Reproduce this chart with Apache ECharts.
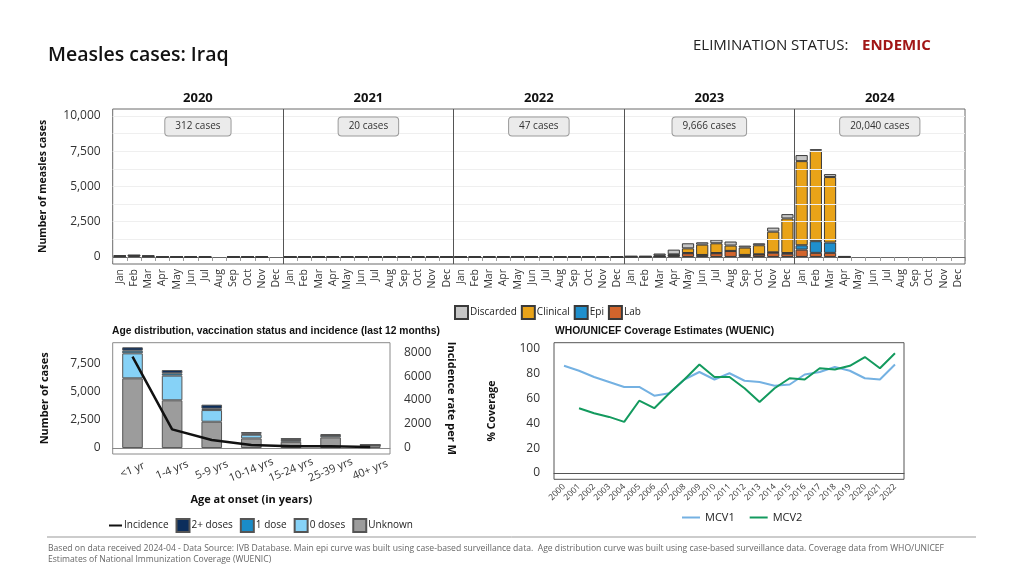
<!DOCTYPE html>
<html><head><meta charset="utf-8">
<script src="https://cdn.jsdelivr.net/npm/echarts@6/dist/echarts.min.js"></script>
<style>html,body{margin:0;padding:0;background:#fff}#c{width:1024px;height:576px}</style>
</head><body><div id="c"></div>
<script>
// ---------- DATA ----------
const years = ['2020', '2021', '2022', '2023', '2024'];
const months = ['Jan','Feb','Mar','Apr','May','Jun','Jul','Aug','Sep','Oct','Nov','Dec'];
const yearTotals = ['312 cases', '20 cases', '47 cases', '9,666 cases', '20,040 cases'];

// monthly values, one row per year (2020..2024)
const labCases = [
  40,110,35,10,4,3,2,null,1,2,1,null,
  1,0,1,0,1,0,1,1,0,1,1,1,
  1,1,2,3,4,2,1,2,1,2,1,1,
  20,20,40,120,260,120,260,420,130,170,300,230,
  520,290,290,15,null,null,null,null,null,null,null,null
];
const epiCases = [
  0,0,0,0,0,0,0,null,0,0,0,null,
  0,0,0,0,0,0,0,0,0,0,0,0,
  0,0,0,0,0,0,0,0,0,0,0,0,
  0,0,5,5,20,20,20,10,15,20,30,50,
  310,830,735,0,null,null,null,null,null,null,null,null
];
const clinicalCases = [
  40,0,40,10,4,3,3,null,2,1,1,null,
  1,1,1,1,1,1,1,1,1,1,1,1,
  2,1,2,3,4,3,2,2,2,2,2,1,
  25,25,60,60,330,735,690,380,520,640,1466,2450,
  5970,6420,4645,15,null,null,null,null,null,null,null,null
];
const discardedCases = [
  0,0,0,0,0,0,0,null,0,0,0,null,
  0,0,0,0,0,0,0,0,0,0,0,0,
  0,0,0,40,50,0,0,0,0,0,40,0,
  5,5,140,335,360,165,260,285,140,140,285,310,
  430,110,210,10,null,null,null,null,null,null,null,null
];
const casesTicks = [0, 2500, 5000, 7500, 10000];
const casesMinorLines = [1250, 2500, 3750, 5000, 6250, 7500, 8750, 10000];

const ageGroups = ['<1 yr','1-4 yrs','5-9 yrs','10-14 yrs','15-24 yrs','25-39 yrs','40+ yrs'];
const ageUnknown = [6220, 4260, 2350, 860, 560, 950, 240];
const ageDose0   = [2230, 2200, 1040, 330, 150, 150, 20];
const ageDose1   = [240, 210, 120, 90, 50, 50, 10];
const ageDose2   = [300, 290, 360, 150, 130, 100, 10];
const incidence  = [7660, 1520, 620, 200, 100, 100, 30];
const ageLeftTicks = [0, 2500, 5000, 7500];
const ageRightTicks = [0, 2000, 4000, 6000, 8000];

const covYears = [2000,2001,2002,2003,2004,2005,2006,2007,2008,2009,2010,2011,2012,2013,2014,2015,2016,2017,2018,2019,2020,2021,2022];
const mcv1 = [86,82,77,73,69,69,62,64,75,81,75,80,74,73,70,71,79,81,85,82,76,75,87];
const mcv2 = [null,52,48,45,41,58,52,64,75,87,77,77,68,57,68,76,75,84,83,86,93,84,96];
const covTicks = [0, 20, 40, 60, 80, 100];

// ---------- CHART ----------
const FONT = '"Open Sans", sans-serif';
const monthCats = [];
years.forEach(y => months.forEach(m => monthCats.push(y + '-' + m)));
const yearBounds = years.slice(1).map((y, i) => (i + 1) * months.length);
const fmt = v => v.toLocaleString('en-US');

const barBorder = { borderColor: '#3a3a3a', borderWidth: 1 };
const colors = { lab: '#d2642c', epi: '#1f8fcc', clinical: '#e9a318', discarded: '#c6c6c6' };
const lineLegend = name => ({ name: name, itemStyle: { opacity: 0 } });
const boxLegend = name => ({ name: name, icon: 'rect' });

const chart = echarts.init(document.getElementById('c'));

const option = {
  animation: false,
  textStyle: { fontFamily: FONT },
  grid: [
    { left: 112.7, right: 59, top: 109, bottom: 312, show: true, borderColor: '#6a6a6a', borderWidth: 1, backgroundColor: 'transparent' },
    { left: 112.7, right: 634, top: 342.7, bottom: 122, show: true, borderColor: '#8a8a8a', borderWidth: 1, backgroundColor: 'transparent' },
    { left: 554, right: 120, top: 342.7, bottom: 96.7, show: true, borderColor: '#555', borderWidth: 1, backgroundColor: 'transparent' }
  ],
  xAxis: [
    { type: 'category', gridIndex: 0, data: monthCats, position: 'bottom',
      axisLine: { show: true, lineStyle: { color: '#666' } },
      axisTick: { show: true, length: 4, lineStyle: { color: '#999' } },
      axisLabel: { interval: 0, rotate: 90, fontSize: 10.5, color: '#333', margin: 5, formatter: v => v.split('-')[1] } },
    { type: 'category', gridIndex: 0, data: years, position: 'top',
      axisLine: { show: false }, axisTick: { show: false },
      axisLabel: { fontSize: 13, fontWeight: 'bold', color: '#111', margin: 4 } },
    { type: 'value', gridIndex: 0, min: 0, max: monthCats.length, show: false },
    { type: 'category', gridIndex: 1, data: ageGroups,
      axisLine: { show: true, lineStyle: { color: '#888' } }, axisTick: { show: false },
      axisLabel: { interval: 0, rotate: 22, fontSize: 11, color: '#333', margin: 16, align: 'center', verticalAlign: 'middle' },
      name: 'Age at onset (in years)', nameLocation: 'middle', nameGap: 40,
      nameTextStyle: { fontWeight: 'bold', fontSize: 11, color: '#111' } },
    { type: 'value', gridIndex: 2, min: 1999.335, max: 2022.6,
      axisLine: { show: true, lineStyle: { color: '#555' } },
      axisTick: { show: false },
      splitLine: { show: false },
      axisLabel: { customValues: covYears, rotate: 45, fontSize: 8.5, color: '#333', margin: 6, formatter: v => String(v) } }
  ],
  yAxis: [
    { type: 'value', gridIndex: 0, min: -500, max: 10500,
      axisLine: { show: false }, axisTick: { show: false }, splitLine: { show: false },
      axisLabel: { customValues: casesTicks, fontSize: 12, color: '#333', margin: 12, formatter: v => fmt(v) },
      name: 'Number of measles cases', nameLocation: 'middle', nameGap: 64,
      nameTextStyle: { fontWeight: 'bold', fontSize: 10.5, color: '#111' } },
    { type: 'value', gridIndex: 1, min: -530, max: 9400,
      axisLine: { show: false }, axisTick: { show: false }, splitLine: { show: false },
      axisLabel: { customValues: ageLeftTicks, fontSize: 12, color: '#333', margin: 12, formatter: v => fmt(v) },
      name: 'Number of cases', nameLocation: 'middle', nameGap: 62,
      nameTextStyle: { fontWeight: 'bold', fontSize: 11, color: '#111' } },
    { type: 'value', gridIndex: 1, position: 'right', min: -560, max: 8840,
      axisLine: { show: false }, axisTick: { show: false }, splitLine: { show: false },
      axisLabel: { customValues: ageRightTicks, fontSize: 12, color: '#333', margin: 14, formatter: v => String(v) },
      name: 'Incidence rate per M', nameLocation: 'middle', nameGap: 56, nameRotate: -90,
      nameTextStyle: { fontWeight: 'bold', fontSize: 11, color: '#111' } },
    { type: 'value', gridIndex: 2, min: -5, max: 104.5,
      axisLine: { show: false }, axisTick: { show: false }, splitLine: { show: false },
      axisLabel: { customValues: covTicks, fontSize: 12, color: '#333', margin: 14 },
      name: '% Coverage', nameLocation: 'middle', nameGap: 56,
      nameTextStyle: { fontWeight: 'bold', fontSize: 10.5, color: '#111' } }
  ],
  legend: [
    { data: ['Discarded', 'Clinical', 'Epi', 'Lab'].map(boxLegend), left: 449, top: 300, itemWidth: 13, itemHeight: 13, itemGap: 4,
      textStyle: { fontSize: 10, color: '#222', padding: [0, 0, 0, -3] } },
    { data: [lineLegend('Incidence')].concat(['2+ doses', '1 dose', '0 doses', 'Unknown'].map(boxLegend)), left: 103, top: 513, itemWidth: 13, itemHeight: 13, itemGap: 7,
      textStyle: { fontSize: 10, color: '#222', padding: [0, 0, 0, -3] } },
    { data: [lineLegend('MCV1'), lineLegend('MCV2')], left: 676, top: 507, itemWidth: 18, itemHeight: 10, itemGap: 14,
      textStyle: { fontSize: 11, color: '#222' } }
  ],
  series: [
    // background guides for the epi curve
    { type: 'line', xAxisIndex: 2, yAxisIndex: 0, data: [], z: 1, silent: true,
      markLine: { silent: true, symbol: 'none', label: { show: false }, animation: false,
        data: casesMinorLines.map(v => ({ yAxis: v, lineStyle: { color: '#efefef', type: 'solid', width: 1 } }))
          .concat(yearBounds.map(v => ({ xAxis: v, lineStyle: { color: '#555', type: 'solid', width: 1 } }))) } },
    { name: 'Lab', type: 'bar', xAxisIndex: 0, yAxisIndex: 0, stack: 'epi', data: labCases, barCategoryGap: '14%',
      itemStyle: Object.assign({ color: colors.lab }, barBorder) },
    { name: 'Epi', type: 'bar', xAxisIndex: 0, yAxisIndex: 0, stack: 'epi', data: epiCases,
      itemStyle: Object.assign({ color: colors.epi }, barBorder) },
    { name: 'Clinical', type: 'bar', xAxisIndex: 0, yAxisIndex: 0, stack: 'epi', data: clinicalCases,
      itemStyle: Object.assign({ color: colors.clinical }, barBorder) },
    { name: 'Discarded', type: 'bar', xAxisIndex: 0, yAxisIndex: 0, stack: 'epi', data: discardedCases,
      itemStyle: Object.assign({ color: colors.discarded }, barBorder) },

    { name: 'Unknown', type: 'bar', xAxisIndex: 3, yAxisIndex: 1, stack: 'age', data: ageUnknown, barWidth: '52%',
      itemStyle: { color: '#9c9c9c', borderColor: '#555', borderWidth: 1 } },
    { name: '0 doses', type: 'bar', xAxisIndex: 3, yAxisIndex: 1, stack: 'age', data: ageDose0,
      itemStyle: { color: '#86d2f7', borderColor: '#555', borderWidth: 1 } },
    { name: '1 dose', type: 'bar', xAxisIndex: 3, yAxisIndex: 1, stack: 'age', data: ageDose1,
      itemStyle: { color: '#1a8cc8', borderColor: '#555', borderWidth: 1 } },
    { name: '2+ doses', type: 'bar', xAxisIndex: 3, yAxisIndex: 1, stack: 'age', data: ageDose2,
      itemStyle: { color: '#0c2e5c', borderColor: '#555', borderWidth: 1 } },
    { name: 'Incidence', type: 'line', xAxisIndex: 3, yAxisIndex: 2, data: incidence, symbol: 'none', z: 5,
      lineStyle: { color: '#111', width: 2.5 }, itemStyle: { color: '#111' } },

    { name: 'MCV1', type: 'line', xAxisIndex: 4, yAxisIndex: 3, symbol: 'none',
      data: covYears.map((y, i) => [y, mcv1[i]]),
      lineStyle: { color: '#74b1e2', width: 2 }, itemStyle: { color: '#74b1e2' } },
    { name: 'MCV2', type: 'line', xAxisIndex: 4, yAxisIndex: 3, symbol: 'none', connectNulls: false,
      data: covYears.map((y, i) => [y, mcv2[i]]),
      lineStyle: { color: '#139a5e', width: 2 }, itemStyle: { color: '#139a5e' } }
  ]
};
chart.setOption(option);

const staticText = [
  { type: 'text', x: 48, y: 55, style: { text: 'Measles cases: Iraq', font: '600 19.5px ' + FONT, fill: '#111', verticalAlign: 'middle' } },
  { type: 'text', x: 693, y: 46, style: { text: 'ELIMINATION STATUS:', font: '15px ' + FONT, fill: '#222', verticalAlign: 'middle' } },
  { type: 'text', x: 862, y: 46, style: { text: 'ENDEMIC', font: 'bold 15px ' + FONT, fill: '#a11616', verticalAlign: 'middle' } },
  { type: 'text', x: 112, y: 331, style: { text: 'Age distribution, vaccination status and incidence (last 12 months)', font: 'bold 10.3px "Liberation Sans", Arial, sans-serif', fill: '#111', verticalAlign: 'middle' } },
  { type: 'text', x: 555, y: 331, style: { text: 'WHO/UNICEF Coverage Estimates (WUENIC)', font: 'bold 10.3px "Liberation Sans", Arial, sans-serif', fill: '#111', verticalAlign: 'middle' } },
  { type: 'line', shape: { x1: 47, y1: 537, x2: 976, y2: 537 }, style: { stroke: '#999', lineWidth: 1 } },
  { type: 'text', x: 48, y: 549, style: { text: 'Based on data received 2024-04 - Data Source: IVB Database. Main epi curve was built using case-based surveillance data.  Age distribution curve was built using case-based surveillance data. Coverage data from WHO/UNICEF', font: '8.6px ' + FONT, fill: '#666', verticalAlign: 'middle' } },
  { type: 'text', x: 48, y: 560, style: { text: 'Estimates of National Immunization Coverage (WUENIC)', font: '8.6px ' + FONT, fill: '#666', verticalAlign: 'middle' } }
];
const boxes = years.map((y, i) => ({
  type: 'text', x: chart.convertToPixel({ xAxisIndex: 1 }, y), y: 126.5, z: 10,
  style: { text: yearTotals[i], font: '10px ' + FONT, fill: '#333', align: 'center', verticalAlign: 'middle',
    backgroundColor: '#ebebeb', borderColor: '#9a9a9a', borderWidth: 1, borderRadius: 3, padding: [4, 10] }
}));
chart.setOption({ graphic: staticText.concat(boxes) });
</script>
</body></html>
